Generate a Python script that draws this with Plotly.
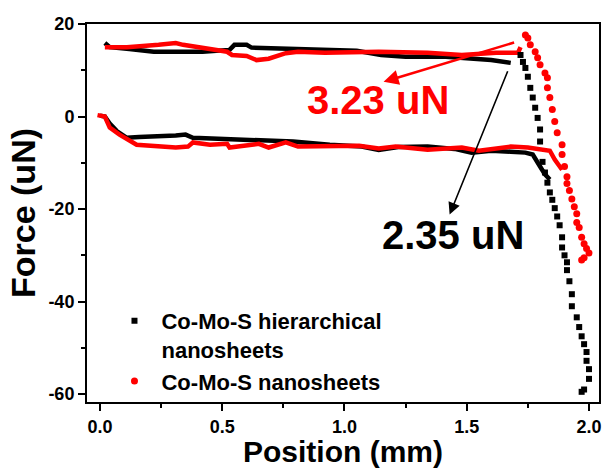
import plotly.graph_objects as go

# ---- data ----
hier_upper_x = [0.02, 0.04, 0.12, 0.22, 0.42, 0.53, 0.55, 0.60, 0.62, 0.70, 0.85, 0.95, 1.05, 1.15, 1.25, 1.40, 1.52, 1.60, 1.68]
hier_upper_y = [15.9, 15.0, 14.6, 14.0, 14.0, 14.4, 15.5, 15.5, 14.9, 14.8, 14.6, 14.4, 14.2, 13.3, 12.9, 13.0, 12.5, 12.2, 11.6]

hier_lower_x = [0.0, 0.02, 0.04, 0.07, 0.11, 0.16, 0.31, 0.35, 0.38, 0.52, 0.65, 0.79, 0.94, 1.07, 1.14, 1.22, 1.34, 1.45, 1.52, 1.60, 1.68, 1.74, 1.77, 1.79, 1.80, 1.82, 1.84]
hier_lower_y = [0.2, 0.0, -1.5, -3.2, -4.6, -4.4, -4.1, -3.9, -4.6, -4.8, -5.2, -5.4, -6.1, -6.5, -7.2, -6.6, -6.5, -7.0, -7.8, -7.4, -7.6, -7.8, -8.2, -9.7, -10.8, -12.5, -13.6]

hier_drop_x = [1.72, 1.73, 1.74, 1.75, 1.76, 1.77, 1.78, 1.79, 1.80, 1.80, 1.81, 1.82, 1.83, 1.84, 1.85, 1.86, 1.87, 1.88, 1.89, 1.89, 1.90, 1.91, 1.91, 1.92, 1.93, 1.93, 1.95, 1.96, 1.97, 1.98, 1.99, 1.99, 2.00, 2.00, 1.98, 1.97]
hier_drop_y = [13.3, 11.8, 10.5, 8.6, 6.2, 4.1, 1.9, -0.3, -2.8, -5.4, -9.8, -12.1, -14.3, -16.4, -18.0, -19.8, -21.6, -23.5, -26.1, -28.3, -30.0, -31.5, -33.2, -35.6, -38.4, -41.0, -43.4, -45.5, -47.5, -49.2, -50.9, -52.8, -54.6, -56.7, -59.0, -59.5]

nano_upper_x = [0.02, 0.11, 0.24, 0.31, 0.34, 0.42, 0.52, 0.54, 0.60, 0.64, 0.69, 0.76, 0.81, 0.92, 1.02, 1.14, 1.34, 1.48, 1.62, 1.71, 1.72]
nano_upper_y = [15.0, 15.0, 15.5, 15.9, 15.5, 14.8, 14.0, 13.3, 13.1, 12.2, 12.5, 13.7, 14.0, 13.8, 14.0, 14.0, 13.8, 13.3, 13.8, 13.8, 15.0]

nano_lower_x = [-0.01, 0.02, 0.04, 0.08, 0.15, 0.24, 0.31, 0.36, 0.38, 0.45, 0.52, 0.53, 0.60, 0.65, 0.69, 0.76, 0.81, 0.92, 1.06, 1.14, 1.21, 1.34, 1.48, 1.55, 1.68, 1.75, 1.84, 1.86, 1.89]
nano_lower_y = [0.3, 0.0, -2.4, -3.9, -6.1, -6.5, -6.7, -6.5, -5.6, -6.1, -5.9, -6.7, -6.3, -5.9, -6.7, -5.6, -6.5, -6.5, -6.3, -6.9, -6.5, -7.2, -6.7, -7.4, -6.5, -6.7, -7.4, -9.3, -11.5]

nano_drop_x = [1.74, 1.75, 1.76, 1.78, 1.79, 1.80, 1.82, 1.83, 1.83, 1.84, 1.85, 1.86, 1.87, 1.89, 1.89, 1.90, 1.91, 1.91, 1.92, 1.93, 1.94, 1.95, 1.95, 1.96, 1.97, 1.98, 1.99, 2.00, 1.98, 1.97]
nano_drop_y = [17.6, 17.0, 15.5, 14.0, 12.7, 11.2, 9.4, 8.4, 6.2, 4.1, 1.5, -1.1, -3.5, -6.1, -8.2, -10.8, -13.0, -14.5, -16.0, -17.8, -19.5, -21.0, -22.9, -24.0, -26.1, -27.5, -28.5, -29.5, -30.5, -31.0]

x_ticks = [0.0, 0.5, 1.0, 1.5, 2.0]
y_ticks = [-60, -40, -20, 0, 20]

FONT = "Liberation Sans, Arial, sans-serif"
BLACK = "#000000"
RED = "#ff0000"

fig = go.Figure()
for xs, ys, c in [(hier_upper_x, hier_upper_y, BLACK), (hier_lower_x, hier_lower_y, BLACK),
                  (nano_upper_x, nano_upper_y, RED), (nano_lower_x, nano_lower_y, RED)]:
    fig.add_trace(go.Scatter(x=xs, y=ys, mode="lines", line=dict(color=c, width=4.5),
                             showlegend=False, hoverinfo="skip"))

fig.add_trace(go.Scatter(x=hier_drop_x, y=hier_drop_y, mode="markers",
                         marker=dict(symbol="square", size=6, color=BLACK),
                         name="<b>Co-Mo-S hierarchical<br>nanosheets</b>"))
fig.add_trace(go.Scatter(x=nano_drop_x, y=nano_drop_y, mode="markers",
                         marker=dict(symbol="circle", size=7, color=RED),
                         name="<b>Co-Mo-S nanosheets</b>"))

# arrows
fig.add_annotation(x=1.16, y=7.5, ax=1.70, ay=16.1, axref="x", ayref="y", xref="x", yref="y",
                   text="", showarrow=True, arrowhead=2, arrowsize=1.2, arrowwidth=2.5, arrowcolor=RED)
fig.add_annotation(x=1.43, y=-21.2, ax=1.67, ay=10.1, axref="x", ayref="y", xref="x", yref="y",
                   text="", showarrow=True, arrowhead=2, arrowsize=1.5, arrowwidth=1.6, arrowcolor=BLACK)
fig.add_annotation(x=1.137, y=3.6, text="<b>3.23 uN</b>", showarrow=False,
                   font=dict(family=FONT, size=40, color=RED))
fig.add_annotation(x=1.442, y=-25.7, text="<b>2.35 uN</b>", showarrow=False,
                   font=dict(family=FONT, size=40, color=BLACK))

axis_common = dict(showline=True, linecolor=BLACK, linewidth=2, mirror=True, ticks="outside",
                   tickwidth=2, ticklen=7, tickcolor=BLACK, showgrid=False, zeroline=False,
                   tickfont=dict(family=FONT, size=18, color=BLACK))

fig.update_xaxes(range=[-0.053, 2.041], tickvals=x_ticks, ticktext=["<b>%.1f</b>" % v for v in x_ticks],
                 minor=dict(dtick=0.25, tick0=0, ticks="outside", ticklen=4, tickwidth=2, tickcolor=BLACK),
                 title=dict(text="<b>Position (mm)</b>", font=dict(family=FONT, size=30, color=BLACK), standoff=4),
                 **axis_common)
fig.update_yaxes(range=[-61.7, 20], tickvals=y_ticks, ticktext=["<b>%d</b>" % v for v in y_ticks],
                 minor=dict(dtick=10, tick0=0, ticks="outside", ticklen=4, tickwidth=2, tickcolor=BLACK),
                 title=dict(text="<b>Force (uN)</b>", font=dict(family=FONT, size=34, color=BLACK), standoff=2),
                 **axis_common)

fig.update_layout(
    width=607, height=468,
    margin=dict(l=87, r=6, t=24, b=65),
    paper_bgcolor="white", plot_bgcolor="white",
    legend=dict(x=0.04, y=0.27, xanchor="left", yanchor="top", bgcolor="rgba(0,0,0,0)",
                font=dict(family=FONT, size=22, color=BLACK), itemwidth=44, valign="top",
                tracegroupgap=0),
)

fig.write_html("out.html")
